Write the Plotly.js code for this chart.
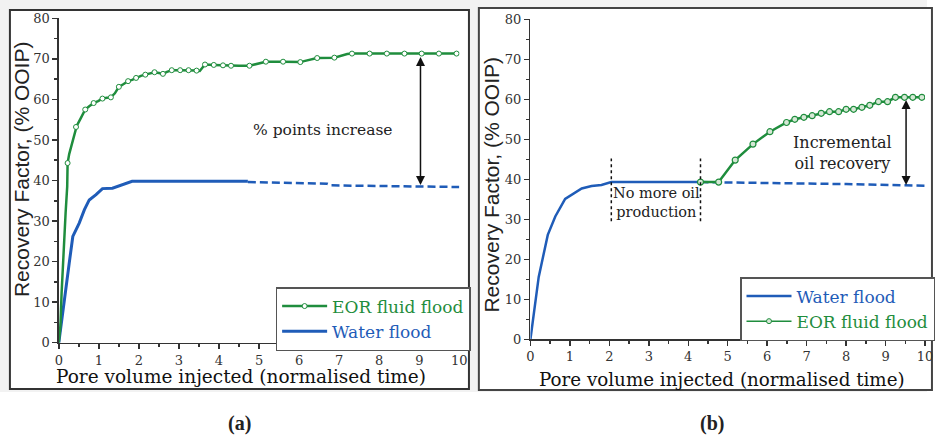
<!DOCTYPE html>
<html>
<head>
<meta charset="utf-8">
<script src="https://cdn.plot.ly/plotly-3.0.1.min.js"></script>
<style>html,body{margin:0;padding:0;background:#fff;overflow:hidden;}#chart{width:935px;height:437px;}</style>
</head>
<body>
<div id="chart"></div>
<script>
// ---------- data: panel (a) ----------
const eorAX = [0, 0.04, 0.07, 0.10, 0.14, 0.17, 0.21, 0.22, 0.26, 0.31, 0.39, 0.43, 0.45, 0.55, 0.66, 0.76, 0.87, 0.98, 1.09, 1.20, 1.30, 1.40, 1.50, 1.62, 1.73, 1.83, 1.93, 2.05, 2.16, 2.28, 2.39, 2.50, 2.60, 2.70, 2.82, 3.03, 3.24, 3.44, 3.52, 3.60, 3.65, 3.87, 4.10, 4.30, 4.50, 4.76, 4.90, 5.05, 5.17, 5.60, 6.03, 6.15, 6.30, 6.45, 6.88, 7.05, 7.20, 7.32, 7.76, 8.19, 8.63, 9.06, 9.49, 9.93, 10];
const eorAY = [0, 4, 12.2, 18.8, 27, 32, 38.5, 44.3, 46.5, 48.4, 51.7, 53.2, 53.5, 55.4, 57.5, 58.3, 59.1, 59.6, 60.2, 60.4, 60.5, 61.5, 63.1, 63.8, 64.5, 64.8, 65.3, 65.8, 66.1, 66.4, 66.7, 66.5, 66.3, 66.8, 67.2, 67.2, 67.2, 67.1, 67.0, 68.0, 68.6, 68.5, 68.4, 68.3, 68.3, 68.3, 68.6, 69.0, 69.3, 69.3, 69.2, 69.5, 69.8, 70.2, 70.3, 70.8, 71.2, 71.3, 71.3, 71.3, 71.3, 71.3, 71.3, 71.3, 71.3];
const eorAMarkX = [0.22, 0.43, 0.66, 0.87, 1.09, 1.30, 1.50, 1.73, 1.93, 2.16, 2.39, 2.60, 2.82, 3.03, 3.24, 3.44, 3.65, 3.87, 4.10, 4.30, 4.76, 5.17, 5.60, 6.03, 6.45, 6.88, 7.32, 7.76, 8.19, 8.63, 9.06, 9.49, 9.93];
const eorAMarkY = [44.3, 53.2, 57.5, 59.1, 60.2, 60.5, 63.1, 64.5, 65.3, 66.1, 66.7, 66.3, 67.2, 67.2, 67.2, 67.1, 68.6, 68.5, 68.4, 68.3, 68.3, 69.3, 69.3, 69.2, 70.2, 70.3, 71.3, 71.3, 71.3, 71.3, 71.3, 71.3, 71.3];
const waterAX = [0, 0.06, 0.12, 0.18, 0.26, 0.35, 0.51, 0.64, 0.76, 0.93, 1.09, 1.34, 1.58, 1.83, 3.0, 4.72];
const waterAY = [0, 4.8, 8.5, 13.8, 19.6, 26.2, 29.5, 32.8, 35.2, 36.5, 38.0, 38.1, 38.9, 39.8, 39.8, 39.8];
const waterADashX = [4.72, 6.70, 6.80, 10];
const waterADashY = [39.6, 39.2, 38.8, 38.4];
const arrowA = {x: 9.03, top: 70.8, bottom: 38.9};

// ---------- data: panel (b) ----------
const waterBX = [0, 0.21, 0.44, 0.63, 0.88, 1.30, 1.55, 1.80, 2.05, 3.0, 4.31];
const waterBY = [0, 15.6, 26.1, 30.7, 35.1, 37.7, 38.3, 38.6, 39.3, 39.3, 39.3];
const waterBDashX = [4.31, 6.0, 8.0, 10];
const waterBDashY = [39.3, 39.1, 38.8, 38.4];
const eorBX = [4.31, 4.77, 5.19, 5.64, 6.07, 6.49, 6.70, 6.93, 7.14, 7.37, 7.58, 7.81, 8.00, 8.19, 8.40, 8.60, 8.82, 9.05, 9.25, 9.48, 9.69, 9.92];
const eorBY = [39.3, 39.3, 44.8, 48.8, 51.9, 54.2, 55.0, 55.5, 55.9, 56.5, 56.9, 56.9, 57.5, 57.5, 58.0, 58.5, 59.4, 59.4, 60.5, 60.5, 60.5, 60.5];
const dividerX = [2.05, 4.31];
const dividerY = [29.5, 45.2];
const arrowB = {x: 9.52, top: 60.2, bottom: 38.6};

// ---------- ticks & labels ----------
const xTicks = [0, 1, 2, 3, 4, 5, 6, 7, 8, 9, 10];
const yTicks = [0, 10, 20, 30, 40, 50, 60, 70, 80];
const secTicks = [0, 10, 20, 30, 40, 50, 60, 70, 80, 90, 100];
const xTitle = 'Pore volume injected (normalised time)';
const yTitle = 'Recovery Factor, (% OOIP)';

const GREEN = '#1f8d3d';
const BLUE = '#1f5cb8';
const AX = '#333333';
const SERIF = 'DejaVu Serif, serif';
const SANS = 'Liberation Sans, Arial, sans-serif';

const traces = [
  // panel (a)
  {x: waterAX, y: waterAY, xaxis: 'x', yaxis: 'y', mode: 'lines', line: {color: BLUE, width: 3}, showlegend: false, hoverinfo: 'skip'},
  {x: waterADashX, y: waterADashY, xaxis: 'x', yaxis: 'y', mode: 'lines', line: {color: BLUE, width: 2.5, dash: '8px,4px'}, showlegend: false, hoverinfo: 'skip'},
  {x: eorAX, y: eorAY, xaxis: 'x', yaxis: 'y', mode: 'lines', line: {color: GREEN, width: 2.5}, showlegend: false, hoverinfo: 'skip'},
  {x: eorAMarkX, y: eorAMarkY, xaxis: 'x', yaxis: 'y', mode: 'markers', marker: {symbol: 'circle', size: 5, color: '#ffffff', line: {color: GREEN, width: 1}}, showlegend: false, hoverinfo: 'skip'},
  {x: [null], y: [null], xaxis: 'x', yaxis: 'y', mode: 'lines+markers', name: '<span style="color:' + GREEN + '">EOR fluid flood</span>', line: {color: GREEN, width: 2.5}, marker: {symbol: 'circle', size: 5, color: '#ffffff', line: {color: GREEN, width: 1}}, legend: 'legend'},
  {x: [null], y: [null], xaxis: 'x', yaxis: 'y', mode: 'lines', name: '<span style="color:' + BLUE + '">Water flood</span>', line: {color: BLUE, width: 3}, legend: 'legend'},
  // panel (b)
  {x: waterBX, y: waterBY, xaxis: 'x2', yaxis: 'y2', mode: 'lines', line: {color: BLUE, width: 2.5}, showlegend: false, hoverinfo: 'skip'},
  {x: waterBDashX, y: waterBDashY, xaxis: 'x2', yaxis: 'y2', mode: 'lines', line: {color: BLUE, width: 2.5, dash: '8px,4px'}, showlegend: false, hoverinfo: 'skip'},
  {x: eorBX, y: eorBY, xaxis: 'x2', yaxis: 'y2', mode: 'lines+markers', line: {color: GREEN, width: 2.5}, marker: {symbol: 'circle', size: 6, color: '#d6e8d6', line: {color: GREEN, width: 1.2}}, showlegend: false, hoverinfo: 'skip'},
  {x: [null], y: [null], xaxis: 'x2', yaxis: 'y2', mode: 'lines', name: '<span style="color:' + BLUE + '">Water flood</span>', line: {color: BLUE, width: 2.5}, legend: 'legend2'},
  {x: [null], y: [null], xaxis: 'x2', yaxis: 'y2', mode: 'lines+markers', name: '<span style="color:' + GREEN + '">EOR fluid flood</span>', line: {color: GREEN, width: 1.5}, marker: {symbol: 'circle', size: 5, color: '#d6e8d6', line: {color: GREEN, width: 1}}, legend: 'legend2'}
];

function mainX(domain, anchor) {
  return {domain: domain, anchor: anchor, range: [0, 10], autorange: false, tickmode: 'array', tickvals: xTicks, ticktext: xTicks.map(String),
    ticks: 'outside', ticklen: 5, tickwidth: 1.5, tickcolor: AX, showline: true, linecolor: AX, linewidth: 1.5,
    showgrid: false, zeroline: false, tickfont: {family: SERIF, size: 13, color: AX},
    minor: {tickmode: 'linear', tick0: 0, dtick: 0.5, ticks: 'outside', ticklen: 3, tickwidth: 1.5, tickcolor: AX, showgrid: false}};
}
function mainY(domain, anchor) {
  return {domain: domain, anchor: anchor, range: [0, 80], autorange: false, tickmode: 'array', tickvals: yTicks, ticktext: yTicks.map(String),
    ticks: 'outside', ticklen: 5, tickwidth: 1.5, tickcolor: AX, showline: true, linecolor: AX, linewidth: 1.5,
    showgrid: false, zeroline: false, tickfont: {family: SERIF, size: 13, color: AX},
    minor: {tickmode: 'linear', tick0: 0, dtick: 5, ticks: 'outside', ticklen: 3, tickwidth: 1.5, tickcolor: AX, showgrid: false}};
}
function topX(domain, over, anchor) {
  return {domain: domain, overlaying: over, anchor: anchor, side: 'top', range: [0, 10], autorange: false, tickmode: 'array', tickvals: xTicks,
    ticks: 'inside', ticklen: 5, tickwidth: 1.5, tickcolor: AX, showticklabels: false, showline: true, linecolor: AX, linewidth: 1.5,
    showgrid: false, zeroline: false};
}
function rightY(domain, over, anchor) {
  return {domain: domain, overlaying: over, anchor: anchor, side: 'right', range: [0, 100], autorange: false, tickmode: 'array', tickvals: secTicks,
    ticks: 'inside', ticklen: 5, tickwidth: 1.5, tickcolor: AX, showticklabels: false, showline: true, linecolor: AX, linewidth: 1.5,
    showgrid: false, zeroline: false};
}

const W = 935, H = 437;
const px = v => v / W;
const py = v => 1 - v / H;

const xDomA = [px(59.3), px(463.3)], yDomA = [py(342.7), py(18.3)];
const xDomB = [px(535), px(933)], yDomB = [py(339.3), py(19.3)];

const shapes = [
  {type: 'rect', xref: 'paper', yref: 'paper', x0: 0, x1: 1, y0: py(392), y1: 1, fillcolor: '#f2f2f2', line: {width: 0}, layer: 'below'},
  {type: 'rect', xref: 'paper', yref: 'paper', x0: px(10), x1: px(473), y0: py(389), y1: py(10), fillcolor: '#ffffff', line: {color: '#333', width: 2}, layer: 'below'},
  {type: 'rect', xref: 'paper', yref: 'paper', x0: px(483), x1: px(940), y0: py(390), y1: py(8), fillcolor: '#ffffff', line: {color: '#444', width: 2}, layer: 'below'}
].concat(dividerX.map(v => ({type: 'line', xref: 'x2', yref: 'y2', x0: v, x1: v, y0: dividerY[0], y1: dividerY[1], line: {color: '#111', width: 1.5, dash: '3px,3px'}})));

function label(xref, yref, x, y, text, font, extra) {
  return Object.assign({xref: xref, yref: yref, x: x, y: y, text: text, showarrow: false, xanchor: 'center', yanchor: 'middle', font: font}, extra || {});
}

const annotations = [
  label('paper', 'paper', px(21.3), py(169), yTitle, {family: SANS, size: 21, color: '#222'}, {textangle: -90}),
  label('paper', 'paper', px(495.3), py(184.5), yTitle, {family: SANS, size: 21, color: '#222'}, {textangle: -90}),
  label('paper', 'paper', px(243), py(376), xTitle, {family: SERIF, size: 18.5, color: '#111'}),
  label('paper', 'paper', px(728), py(379), xTitle, {family: SERIF, size: 18.3, color: '#111'}),
  label('paper', 'paper', px(241.7), py(423), '<b>(a)</b>', {family: 'Liberation Serif, serif', size: 20, color: '#222'}),
  label('paper', 'paper', px(718), py(423), '<b>(b)</b>', {family: 'Liberation Serif, serif', size: 20, color: '#222'}),
  label('x', 'y', 6.6, 52.5, '% points increase', {family: SERIF, size: 15.5, color: '#222'}),
  label('x2', 'y2', 3.2, 34.1, 'No more oil<br>production', {family: SERIF, size: 14.5, color: '#222'}),
  label('x2', 'y2', 7.9, 46.5, 'Incremental<br>oil recovery', {family: SERIF, size: 16, color: '#222'}),
  {xref: 'x', yref: 'y', axref: 'x', ayref: 'y', x: arrowA.x, y: arrowA.bottom, ax: arrowA.x, ay: arrowA.top, text: '', showarrow: true, arrowhead: 2, startarrowhead: 2, arrowside: 'end+start', arrowsize: 1.2, startarrowsize: 1.2, arrowwidth: 1.5, arrowcolor: '#111', standoff: 0, startstandoff: 0},
  {xref: 'x2', yref: 'y2', axref: 'x2', ayref: 'y2', x: arrowB.x, y: arrowB.bottom, ax: arrowB.x, ay: arrowB.top, text: '', showarrow: true, arrowhead: 2, startarrowhead: 2, arrowside: 'end+start', arrowsize: 1.2, startarrowsize: 1.2, arrowwidth: 1.5, arrowcolor: '#111', standoff: 0, startstandoff: 0}
];

const layout = {
  width: W, height: H,
  margin: {l: 0, r: 0, t: 0, b: 0, pad: 0},
  paper_bgcolor: '#ffffff', plot_bgcolor: 'rgba(0,0,0,0)',
  showlegend: true,
  xaxis: mainX(xDomA, 'y'), yaxis: mainY(yDomA, 'x'),
  xaxis2: mainX(xDomB, 'y2'), yaxis2: mainY(yDomB, 'x2'),
  xaxis3: topX(xDomA, 'x', 'y'), yaxis3: rightY(yDomA, 'y', 'x'),
  xaxis4: topX(xDomB, 'x2', 'y2'), yaxis4: rightY(yDomB, 'y2', 'x2'),
  legend: {x: px(278), y: py(287), xanchor: 'left', yanchor: 'top', bgcolor: '#ffffff', bordercolor: '#555', borderwidth: 1.5,
    font: {family: SERIF, size: 17, color: '#222'}, itemwidth: 45, tracegroupgap: 0, traceorder: 'normal'},
  legend2: {x: px(746.7), y: py(277), xanchor: 'left', yanchor: 'top', bgcolor: '#ffffff', bordercolor: '#555', borderwidth: 1.5,
    font: {family: SERIF, size: 17, color: '#222'}, itemwidth: 45, tracegroupgap: 0, traceorder: 'normal'},
  shapes: shapes,
  annotations: annotations
};

Plotly.newPlot('chart', traces, layout, {staticPlot: true, displayModeBar: false});
</script>
</body>
</html>
